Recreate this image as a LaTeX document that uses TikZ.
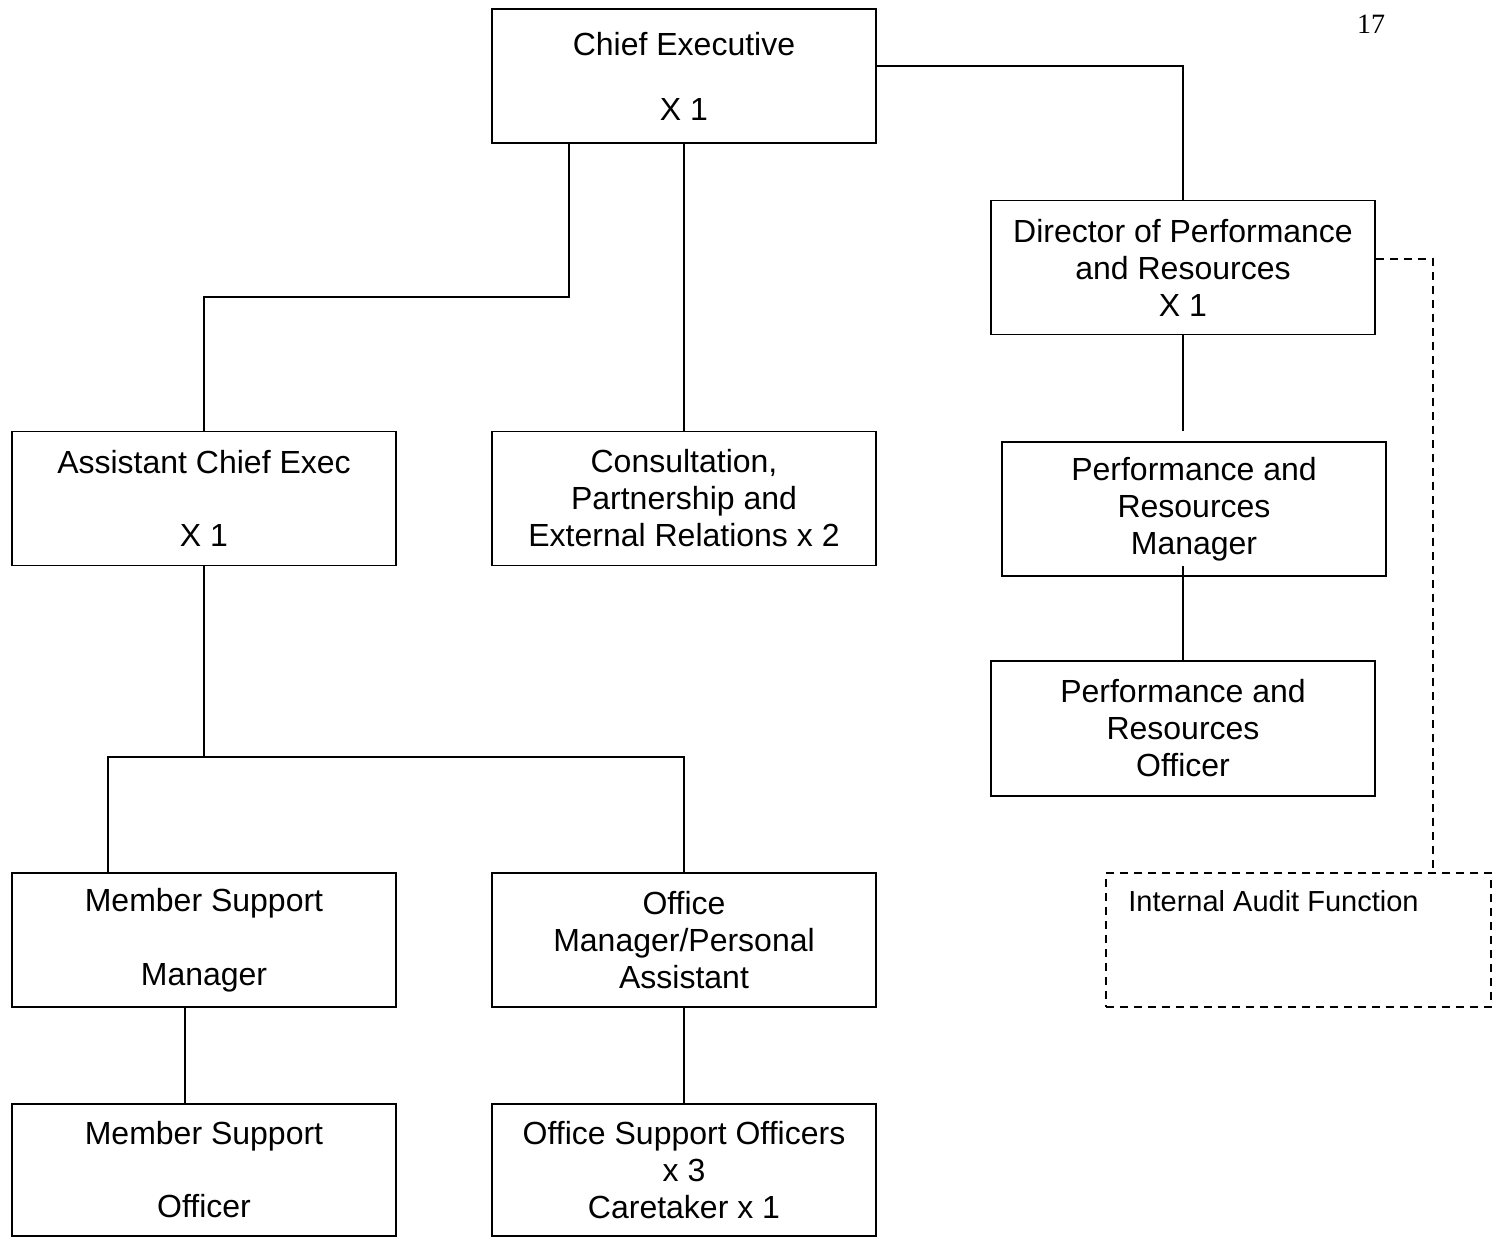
\documentclass[tikz,border=0pt]{standalone}
\usepackage{fontspec}
\setmainfont{Liberation Sans}
\newfontfamily\pagenumfont{Liberation Serif}
\begin{document}
\begin{tikzpicture}[x=0.5pt,y=-0.5pt,
  box/.style={draw, line width=0.9pt, minimum width=192pt, minimum height=67pt,
    inner sep=0pt, align=center, font=\fontsize{16}{18.5}\selectfont},
  dbox/.style={box, dashed, dash pattern=on 4pt off 3pt},
  conn/.style={line width=0.75pt},
  dconn/.style={conn, dash pattern=on 4pt off 3pt}]
\useasboundingbox (0,0) rectangle (1505,1238);

\node[box] (ce) at (684,76) {Chief Executive\\[14pt]X 1};
\node[box] (dir) at (1183,267.5) {Director of Performance\\and Resources\\X 1};
\node[box] (prm) at (1194,509) {Performance and\\Resources\\Manager};
\node[box, minimum height=67.5pt] (pro) at (1183,728.5) {Performance and\\Resources\\Officer};
\node[box] (ace) at (204,498.5) {Assistant Chief Exec\\[18pt]X 1};
\node[box] (cons) at (684,498.5) {Consultation,\\Partnership and\\External Relations x 2};
\node[box] (msm) at (204,940) {Member Support\\[18.5pt]Manager};
\node[box] (om) at (684,940) {Office\\Manager/Personal\\Assistant};
\node[box, minimum height=66pt] (mso) at (204,1170) {Member Support\\[18pt]Officer};
\node[box, minimum height=66pt] (oso) at (684,1170) {Office Support Officers\\x 3\\Caretaker x 1};
\node[dbox, minimum width=192.5pt] (audit) at (1298.5,940) {};
\node[anchor=west, inner sep=0pt, font=\fontsize{14.5}{17}\selectfont] (audittext) at (1128,901) {Internal Audit Function};
\node[inner sep=0pt, font=\pagenumfont\fontsize{14}{16}\selectfont] (pagenum) at (1371,24) {17};

% connectors
\coordinate (ceL) at ([xshift=-57.5pt]ce.south);
\draw[conn] ([yshift=5pt]ce.east) -| (dir.north);
\draw[conn] (ceL) -- (ceL |- 0,297) -| (ace.north);
\draw[conn] (ce.south) -- (cons.north);
\coordinate (dirend) at (1183,431);
\draw[conn] (dir.south) -- (dirend);
\coordinate (prmin) at (1183,566);
\draw[conn] (prmin) -- (pro.north);
\draw[dconn] ([yshift=4.25pt]dir.east) -| ([xshift=67.25pt]audit.north);
\coordinate (branch) at (204,758);
\draw[conn] (ace.south) -- (branch);
\draw[conn] ([xshift=-48pt]msm.north) -- ++(0,-115) -| (om.north);
\draw[conn] ([xshift=-9.5pt]msm.south) -- ([xshift=-9.5pt]mso.north);
\draw[conn] (om.south) -- (oso.north);
\end{tikzpicture}
\end{document}
